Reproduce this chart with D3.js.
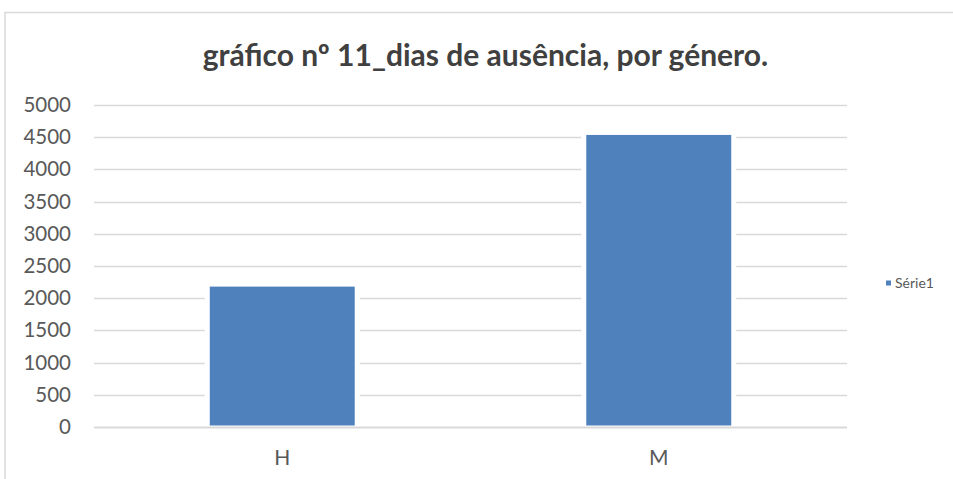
<!DOCTYPE html>
<html>
<head>
<meta charset="utf-8">
<script src="https://d3js.org/d3.v7.min.js"></script>
<style>
  body { margin: 0; background: #fff; }
  text { font-family: Lato, "Open Sans", sans-serif; }
</style>
</head>
<body>
<div id="vis"></div>
<script>
// data
var categories = ["H", "M"];
var values = [2180, 4535];
var yTicks = [0, 500, 1000, 1500, 2000, 2500, 3000, 3500, 4000, 4500, 5000];
var seriesName = "Série1";
var title = "gráfico nº 11_dias de ausência, por género.";

var width = 953, height = 479;
var plot = {left: 94, right: 847, top: 105, bottom: 427};
var barColor = "#4F81BD", gridColor = "#d9d9d9", labelColor = "#595959";

var svg = d3.select("#vis").append("svg")
  .attr("width", width)
  .attr("height", height);

// chart frame (only top and left edges are inside the window)
svg.append("path")
  .attr("d", "M5,480 L5,12.5 L954,12.5")
  .attr("fill", "none")
  .attr("stroke", gridColor)
  .attr("stroke-width", 1.5);

// title
svg.append("text")
  .attr("x", 485.5)
  .attr("y", 66)
  .attr("text-anchor", "middle")
  .attr("font-size", 30)
  .attr("font-weight", "bold")
  .attr("fill", "#404040")
  .text(title);

var y = d3.scaleLinear()
  .domain([0, 5000])
  .range([plot.bottom, plot.top]);

var x = d3.scaleBand()
  .domain(categories)
  .range([plot.left, plot.right])
  .paddingInner(0.615)
  .paddingOuter(0.3075);

// gridlines
svg.append("g")
  .selectAll("line")
  .data(yTicks)
  .enter()
  .append("line")
  .attr("x1", plot.left)
  .attr("x2", plot.right)
  .attr("y1", function(d) { return Math.round(y(d)) + 0.5; })
  .attr("y2", function(d) { return Math.round(y(d)) + 0.5; })
  .attr("stroke", gridColor)
  .attr("stroke-width", function(d) { return d === 0 ? 2 : 1.5; });

// y tick labels
var yAxis = d3.axisLeft(y).tickValues(yTicks).tickFormat(d3.format("d"))
  .tickSize(0).tickPadding(0);
var gy = svg.append("g")
  .attr("transform", "translate(71,0)")
  .call(yAxis);
gy.select(".domain").remove();
gy.selectAll("text")
  .attr("font-family", "Lato")
  .attr("font-size", 20.5)
  .attr("fill", labelColor);

// white gaps around bars (breaks the gridlines, like the original)
svg.append("g")
  .selectAll("rect")
  .data(values)
  .enter()
  .append("rect")
  .attr("x", function(d, i) { return x(categories[i]) - 5; })
  .attr("width", x.bandwidth() + 10)
  .attr("y", function(d) { return y(d); })
  .attr("height", function(d) { return y(0) - y(d) - 1.5; })
  .attr("fill", "#fff");

// bars
svg.append("g")
  .selectAll("rect")
  .data(values)
  .enter()
  .append("rect")
  .attr("x", function(d, i) { return x(categories[i]); })
  .attr("width", x.bandwidth())
  .attr("y", function(d) { return y(d); })
  .attr("height", function(d) { return y(0) - y(d) - 1.5; })
  .attr("fill", barColor);

// x labels
var xAxis = d3.axisBottom(x).tickSize(0).tickPadding(0);
var gx = svg.append("g")
  .attr("transform", "translate(0,450)")
  .call(xAxis);
gx.select(".domain").remove();
gx.selectAll("text")
  .attr("font-family", "Lato")
  .attr("font-size", 21)
  .attr("fill", labelColor)
  .attr("dy", "0.72em");

// legend
var legend = svg.append("g").attr("transform", "translate(886,283)");
legend.append("rect")
  .attr("x", 0)
  .attr("y", -2.5)
  .attr("width", 5)
  .attr("height", 5)
  .attr("fill", barColor);
legend.append("text")
  .attr("x", 9)
  .attr("y", 0)
  .attr("dy", "0.35em")
  .attr("font-size", 14)
  .attr("fill", labelColor)
  .text(seriesName);
</script>
</body>
</html>
